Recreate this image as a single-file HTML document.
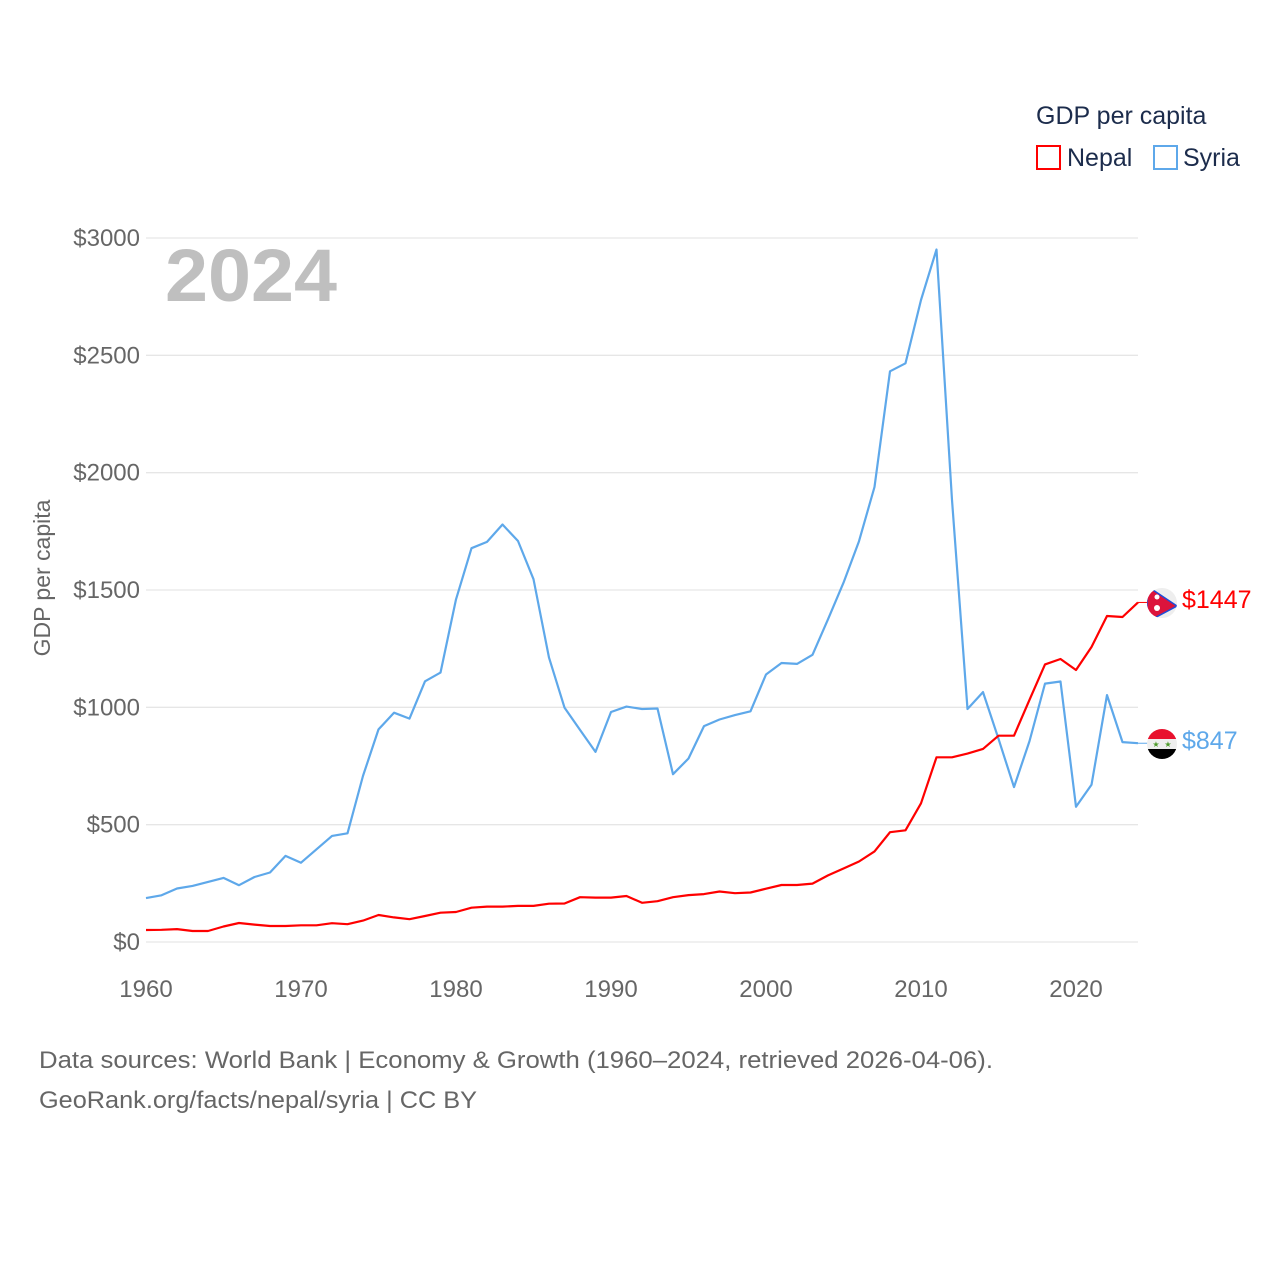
<!DOCTYPE html>
<html><head><meta charset="utf-8"><style>
html,body{margin:0;padding:0;background:#fff;}
svg{display:block;font-family:"Liberation Sans",sans-serif;}
</style></head><body>
<svg id="chart" width="1280" height="1280" viewBox="0 0 1280 1280" xmlns="http://www.w3.org/2000/svg">
<g id="grid"></g>
<g id="yticks"></g>
<g id="xticks"></g>
<text x="165" y="301" font-size="74" font-weight="bold" fill="#bfbfbf" textLength="172" lengthAdjust="spacingAndGlyphs">2024</text>
<text transform="translate(50,578) rotate(-90)" text-anchor="middle" font-size="23" fill="#666">GDP per capita</text>
<g id="series"></g>
<g>
<text x="1036" y="124" font-size="25" fill="#1c2c4c">GDP per capita</text>
<rect x="1037" y="146" width="23" height="23" fill="none" stroke="#ff0000" stroke-width="2"/>
<text x="1067" y="166" font-size="25" fill="#1c2c4c">Nepal</text>
<rect x="1154" y="146" width="23" height="23" fill="none" stroke="#5ea8ea" stroke-width="2"/>
<text x="1183" y="166" font-size="25" fill="#1c2c4c">Syria</text>
</g>
<g>
<clipPath id="c1"><circle cx="1162" cy="603" r="15"/></clipPath>
<g clip-path="url(#c1)">
<rect x="1147" y="588" width="30" height="30" fill="#eee"/>
<polygon points="1147,586 1177,606 1147,622" fill="#dc143c" stroke="#1d4ed8" stroke-width="1.5"/>
<circle cx="1157" cy="597" r="2.5" fill="#fff"/><circle cx="1157" cy="608" r="3" fill="#fff"/>
</g></g>
<g>
<clipPath id="c2"><circle cx="1162" cy="744" r="15"/></clipPath>
<g clip-path="url(#c2)">
<rect x="1147" y="729" width="30" height="10" fill="#e8112d"/>
<rect x="1147" y="739" width="30" height="10" fill="#eee"/>
<rect x="1147" y="749" width="30" height="10" fill="#000"/>
<text x="1156" y="747" font-size="8" fill="#4c9a2a" text-anchor="middle">★</text>
<text x="1168" y="747" font-size="8" fill="#4c9a2a" text-anchor="middle">★</text>
</g></g>
<text x="1182" y="608" font-size="25" fill="#ff0000">$1447</text>
<text x="1182" y="749" font-size="25" fill="#5ea8ea">$847</text>
<text x="39" y="1068" font-size="24" fill="#666" textLength="954" lengthAdjust="spacingAndGlyphs">Data sources: World Bank | Economy &amp; Growth (1960–2024, retrieved 2026-04-06).</text>
<text x="39" y="1108" font-size="24" fill="#666" textLength="438" lengthAdjust="spacingAndGlyphs">GeoRank.org/facts/nepal/syria | CC BY</text>
</svg>
<script>
const years = [];
for (let y = 1960; y <= 2024; y++) years.push(y);
const nepal = [51,52,55,47,47,66,81,74,68,68,71,71,80,76,91,115,105,97,111,125,128,146,151,151,154,154,163,164,191,189,189,196,167,174,191,200,204,215,208,211,227,243,243,249,284,313,343,386,468,476,591,787,787,803,823,879,879,1032,1183,1206,1159,1257,1389,1385,1447];
const syria = [187,199,228,239,256,273,242,277,296,367,338,395,452,463,708,906,977,952,1111,1148,1460,1678,1705,1779,1709,1546,1212,999,904,810,980,1003,993,995,715,782,920,948,967,983,1140,1189,1185,1224,1375,1531,1708,1939,2432,2466,2736,2951,1884,993,1065,866,660,856,1101,1110,576,670,1052,852,847];
const yTicks = [0,500,1000,1500,2000,2500,3000];
const xTicks = [1960,1970,1980,1990,2000,2010,2020];
const NS = "http://www.w3.org/2000/svg";
const X = yr => 146 + (yr - 1960) * 15.5;
const Y = v => 942 - v * (704 / 3000);
function mk(tag, attrs, parent) {
  const e = document.createElementNS(NS, tag);
  for (const k in attrs) e.setAttribute(k, attrs[k]);
  parent.appendChild(e); return e;
}
const grid = document.getElementById('grid'), yt = document.getElementById('yticks'), xt = document.getElementById('xticks'), ser = document.getElementById('series');
yTicks.forEach(v => {
  const l = mk('line', {x1:146, x2:1138, y1:Y(v), y2:Y(v), stroke:'#e6e6e6', 'stroke-width':1.3}, grid);
  
  
  const t = mk('text', {x:140, y:Y(v)+8, 'text-anchor':'end', 'font-size':24, fill:'#666'}, yt);
  t.textContent = '$' + v;
  
  
});
xTicks.forEach(yr => {
  const t = mk('text', {x:X(yr), y:997, 'text-anchor':'middle', 'font-size':24, fill:'#666'}, xt);
  t.textContent = yr;
  
  
});
function drawSeries(vals, color, name) {
  const pts = vals.map((v, i) => X(years[i]).toFixed(1) + ',' + Y(v).toFixed(1)).join(' ');
  const p = mk('polyline', {points:pts, fill:'none', stroke:color, 'stroke-width':2.2, 'stroke-linejoin':'round'}, ser);
  
  
  const last = vals[vals.length - 1];
  const c = mk('line', {x1:X(years[years.length-1]), x2:1148, y1:Y(last), y2:Y(last), stroke:color, 'stroke-width':1}, ser);
  
  
}
drawSeries(syria, '#5ea8ea', 'syria');
drawSeries(nepal, '#ff0000', 'nepal');
</script>
</body></html>
